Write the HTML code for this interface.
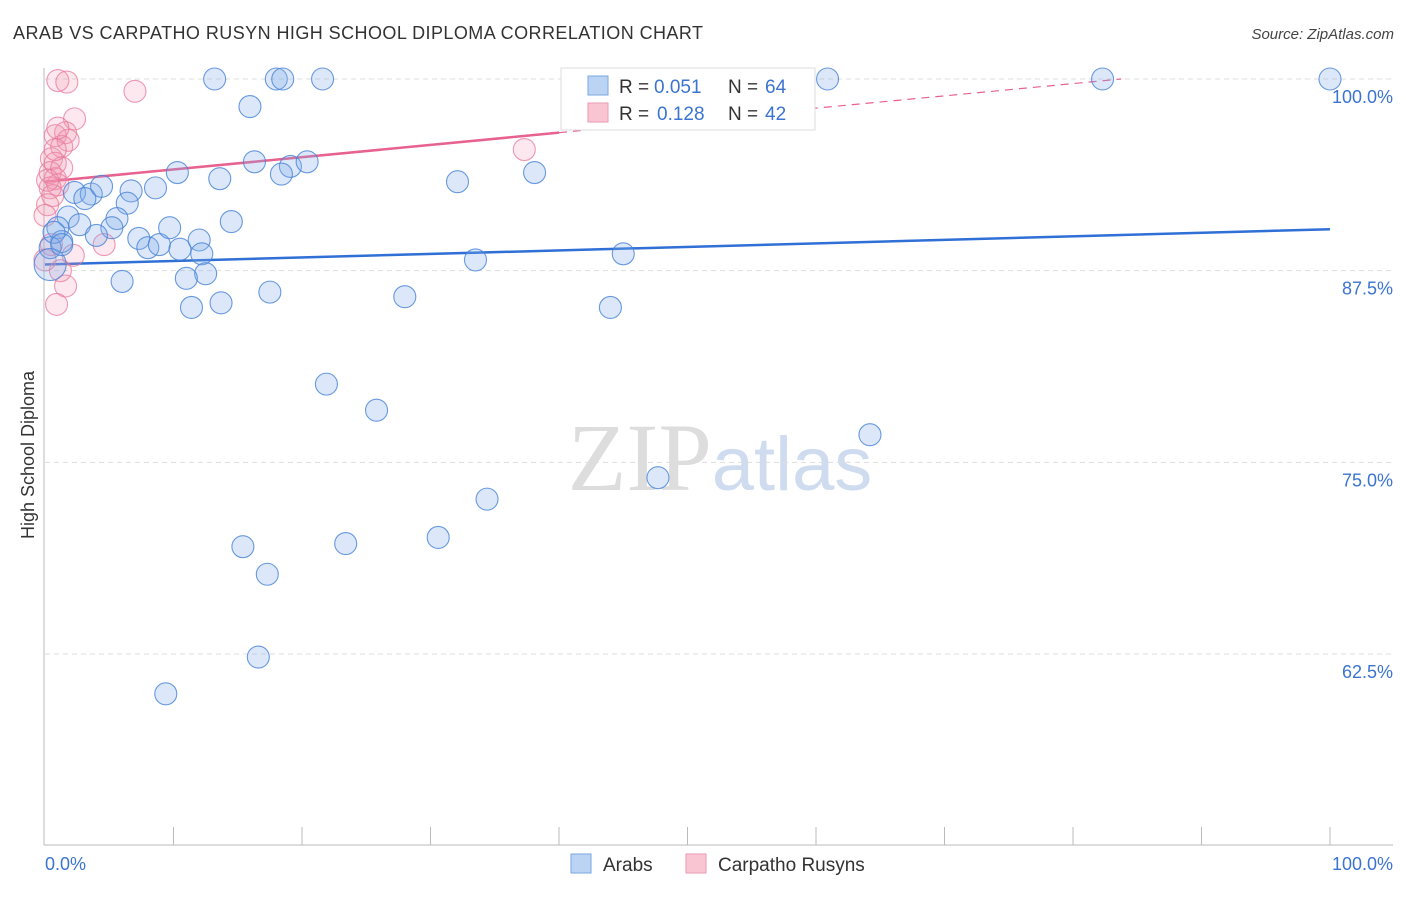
<!DOCTYPE html>
<html><head><meta charset="utf-8"><style>
body{margin:0;background:#fff;font-family:"Liberation Sans",sans-serif}
</style></head><body>
<svg id="chart" width="1406" height="892" xmlns="http://www.w3.org/2000/svg" font-family="Liberation Sans, sans-serif">
<text x="13" y="39" font-size="18" fill="#333" textLength="690" lengthAdjust="spacing">ARAB VS CARPATHO RUSYN HIGH SCHOOL DIPLOMA CORRELATION CHART</text>
<text x="1394" y="39" font-size="15" fill="#444" text-anchor="end" font-style="italic">Source: ZipAtlas.com</text>
<text x="720" y="490" font-size="96" text-anchor="middle"><tspan fill="#ddd" font-family="Liberation Serif, serif">ZIP</tspan><tspan fill="#cfdcf0" font-size="76">atlas</tspan></text>
<text transform="translate(34,455) rotate(-90)" font-size="18" fill="#333" text-anchor="middle">High School Diploma</text>
<g id="grid"></g><g id="axes"></g><g id="lines"></g><g id="pts"></g>
<g>
<rect x="561" y="68" width="254" height="62" fill="#fff" stroke="#ddd"/>
<rect x="588" y="76" width="20" height="19" fill="#bcd4f4" stroke="#7aa7e0"/>
<rect x="588" y="103" width="20" height="19" fill="#f9c5d3" stroke="#ea9ab2"/>
<text x="619" y="93" font-size="19" fill="#333">R =</text>
<text x="654" y="93" font-size="19" fill="#3b74d1">0.051</text>
<text x="728" y="93" font-size="19" fill="#333">N =</text>
<text x="765" y="93" font-size="19" fill="#3b74d1">64</text>
<text x="619" y="120" font-size="19" fill="#333">R =</text>
<text x="657" y="120" font-size="19" fill="#3b74d1">0.128</text>
<text x="728" y="120" font-size="19" fill="#333">N =</text>
<text x="765" y="120" font-size="19" fill="#3b74d1">42</text>
</g>
<g>
<rect x="571" y="854" width="20" height="19" fill="#bcd4f4" stroke="#7aa7e0"/>
<text x="603" y="871" font-size="19" fill="#333">Arabs</text>
<rect x="686" y="854" width="20" height="19" fill="#f9c5d3" stroke="#ea9ab2"/>
<text x="718" y="871" font-size="19" fill="#333">Carpatho Rusyns</text>
</g>
</svg>
<script>
const yTicks=[100,87.5,75,62.5];
const yTickLabels=["100.0%","87.5%","75.0%","62.5%"];
const xTickLabels=["0.0%","100.0%"];
const arabX=[13.2,18.0,18.5,21.6,60.9,82.3,100,47.1,15.95,10.3,16.3,19.1,20.4,18.4,13.6,8.6,6.7,2.3,3.6,3.1,4.4,6.4,5.6,5.2,1.8,2.7,1.0,4.0,1.3,0.4,7.3,8.0,8.9,9.7,10.5,12.0,12.2,12.5,11.0,6.0,11.4,13.7,17.5,14.5,32.1,38.1,33.5,45.0,28.0,44.0,21.9,25.8,64.2,47.7,34.4,15.4,23.4,30.6,17.3,16.6,9.4,0.4,0.7,1.3];
const arabY=[100,100,100,100,100,100,100,100,98.2,93.9,94.6,94.3,94.6,93.8,93.5,92.9,92.7,92.6,92.5,92.2,93.0,91.9,90.9,90.3,91.0,90.5,90.3,89.8,89.4,89.0,89.6,89.0,89.2,90.3,88.9,89.5,88.6,87.3,87.0,86.8,85.1,85.4,86.1,90.7,93.3,93.9,88.2,88.6,85.8,85.1,80.1,78.4,76.8,74.0,72.6,69.5,69.7,70.1,67.7,62.3,59.9,87.9,90.0,89.2];
const rusX=[1.0,1.7,7.0,2.3,1.6,0.8,1.3,1.8,0.5,0.8,0.4,0.8,1.0,0.4,0.6,0.2,0,0.5,2.2,4.6,1.2,1.6,0.9,37.3,1.0,0.2,1.3,0,0.8];
const rusY=[99.9,99.8,99.2,97.4,96.5,96.3,95.6,96.0,94.8,94.5,93.9,93.5,93.1,92.9,92.4,91.8,91.1,89.2,88.5,89.2,87.5,86.5,85.3,95.4,96.8,93.4,94.2,88.2,95.4];
const arabTrend=[87.9,90.2];
const rusTrend=[93.3,101.3];
const X=v=>45+v*12.85, Y=v=>79+(100-v)*15.333;
const NS="http://www.w3.org/2000/svg";
function mk(p,t,a){const e=document.createElementNS(NS,t);for(const k in a)e.setAttribute(k,a[k]);document.getElementById(p).appendChild(e);return e;}
yTicks.forEach((t,i)=>{
 const g=mk('grid','line',{x1:45,x2:1393,y1:Y(t),y2:Y(t),stroke:'#ddd','stroke-dasharray':'5,4'});
 
 
 const l=mk('grid','text',{x:1393,y:Y(t)+24,'font-size':18,fill:'#3b74d1','text-anchor':'end'});
 l.textContent=yTickLabels[i];
 
 
});
const ax=mk('axes','line',{x1:44,x2:44,y1:68,y2:845,stroke:'#bbb'});


const bx=mk('axes','line',{x1:44,x2:1393,y1:845,y2:845,stroke:'#bbb'});


for(let i=1;i<=10;i++){const t=mk('axes','line',{x1:X(i*10),x2:X(i*10),y1:827,y2:845,stroke:'#bbb'});
 
 }
[[0,'start',45],[100,'end',1393]].forEach((d,i)=>{const t=mk('axes','text',{x:d[2],y:870,'font-size':18,fill:'#3b74d1','text-anchor':d[1]});
 t.textContent=xTickLabels[i];
 
 });
function dots(xs,ys,fill,stroke,name){xs.forEach((x,i)=>{const c=mk('pts','circle',{cx:X(x),cy:Y(ys[i]),r:(name==='arab-point'&&i===61)?16:11,fill:fill,stroke:stroke,'stroke-width':1.1});
 
 });}
dots(rusX,rusY,'rgba(242,150,178,0.22)','rgba(232,120,155,0.75)','rusyn-point');
dots(arabX,arabY,'rgba(130,172,232,0.28)','rgba(70,130,215,0.8)','arab-point');
const bl=mk('lines','line',{x1:X(0),y1:Y(arabTrend[0]),x2:X(100),y2:Y(arabTrend[1]),stroke:'#2f6fd6','stroke-width':2.5});


const slope=(rusTrend[1]-rusTrend[0])/100;
const xe=(100-rusTrend[0])/slope;
const pl=mk('lines','line',{x1:X(0),y1:Y(rusTrend[0]),x2:X(40),y2:Y(rusTrend[0]+slope*40),stroke:'#e8628f','stroke-width':2.5});


const pd=mk('lines','line',{x1:X(40),y1:Y(rusTrend[0]+slope*40),x2:X(xe),y2:Y(100),stroke:'#e8628f','stroke-width':1.2,'stroke-dasharray':'8,6'});


</script>
</body></html>
